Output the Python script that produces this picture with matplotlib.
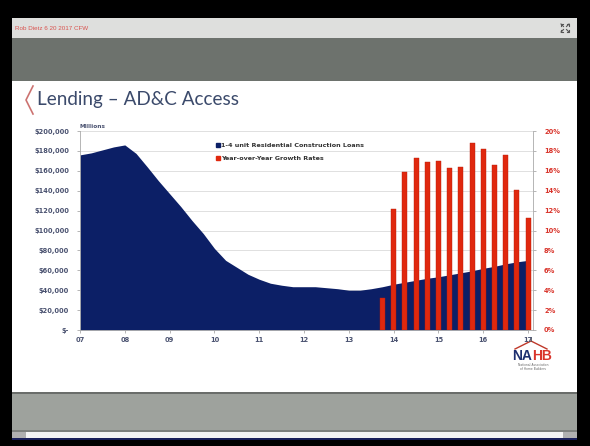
import matplotlib
matplotlib.use("Agg")
import matplotlib.pyplot as plt
import matplotlib.patches as mpatches
from matplotlib.lines import Line2D
import numpy as np

# ---------------- data ----------------
quarters = [2007 + 0.25 * i for i in range(41)]
loans = [176, 178, 181, 184, 186, 177.5, 164, 150, 137, 124, 110, 97,
         82, 70, 63, 56, 51, 47, 45, 43.5, 43.5, 43.5, 42.5, 41.5, 40, 40,
         41.5, 43.5, 46, 48, 50, 52, 53.5, 55.5, 57.5, 59.5, 62, 64, 66.5,
         68.5, 70]  # thousands of $ millions
growth_q = [2013.75 + 0.25 * i for i in range(14)]
growth = [3.2, 12.2, 15.9, 17.3, 16.9, 17.0, 16.25, 16.4, 18.8, 18.2,
          16.6, 17.6, 14.1, 11.3]
year_ticks = list(range(2007, 2018))
year_labels = ["07", "08", "09", "10", "11", "12", "13", "14", "15", "16", "17"]
left_ticks = list(range(0, 200001, 20000))
left_labels = ["$-"] + ["${:,}".format(v) for v in left_ticks[1:]]
right_ticks = list(range(0, 21, 2))
right_labels = ["{}%".format(v) for v in right_ticks]
legend_labels = ["1-4 unit Residential Construction Loans", "Year-over-Year Growth Rates"]

NAVY = "#0c1f66"
RED = "#e0280e"
W, H = 590, 446

fig = plt.figure(figsize=(W / 100, H / 100), dpi=100)
fig.patch.set_facecolor("black")

# background frame axes in pixel coords
bg = fig.add_axes([0, 0, 1, 1])
bg.set_xlim(0, W)
bg.set_ylim(H, 0)
bg.axis("off")

def rect(x0, y0, x1, y1, color, z=0):
    bg.add_patch(mpatches.Rectangle((x0, y0), x1 - x0, y1 - y0, facecolor=color,
                                    edgecolor="none", zorder=z))

rect(12, 18, 577, 38, "#dedfdd")
rect(12, 38, 577, 81, "#6d726d")
rect(12, 81, 577, 392, "#ffffff")
rect(12, 392, 577, 394, "#6a6d6a")
rect(12, 394, 577, 430, "#9ea29d")
rect(12, 430, 577, 432, "#7d807d")
rect(12, 432, 577, 438, "#f4f4f4")
rect(12, 432, 26, 438, "#b0b0b0")
rect(563, 432, 577, 438, "#b0b0b0")
rect(12, 438, 577, 440, "#1a1f5a")

bg.text(15, 28, "Rob Dietz 6 20 2017 CFW", color="#d9534f", fontsize=4.5,
        va="center", ha="left", family="Liberation Sans")
# expand icon drawn as small arrow shapes
cx, cy = 565, 28
for dx, dy in [(-1, -1), (1, -1), (-1, 1), (1, 1)]:
    bg.plot([cx + dx * 1.5, cx + dx * 4], [cy + dy * 1.5, cy + dy * 4],
            color="#555555", lw=0.8)
    bg.plot([cx + dx * 4, cx + dx * 4, cx + dx * 2.2],
            [cy + dy * 2.2, cy + dy * 4, cy + dy * 4], color="#555555", lw=0.8)

# title bracket and title
bg.plot([33, 26, 33], [86, 100, 114], color="#c0504d", lw=1.2, alpha=0.8)
bg.text(37, 99, "Lending \u2013 AD&C Access", color="#3b4a6b", fontsize=13.6,
        va="center", ha="left", family="Lato")

# NAHB logo
bg.plot([515, 531, 547], [349, 341, 349], color="#c0392b", lw=1.0)
bg.plot([531, 531], [341, 337], color="#555", lw=0.6)
bg.text(532, 356, "NA", color="#1d2f6f", fontsize=10, fontweight="bold",
        ha="right", va="center", family="Liberation Sans")
bg.text(532, 356, "HB", color="#d9342b", fontsize=10, fontweight="bold",
        ha="left", va="center", family="Liberation Sans")
bg.text(533, 367, "National Association\nof Home Builders", color="#666",
        fontsize=2.2, ha="center", va="center", linespacing=1.0)

# ---------------- chart ----------------
ax_l, ax_r, ax_t, ax_b = 80, 533, 131, 330
ax = fig.add_axes([ax_l / W, 1 - ax_b / H, (ax_r - ax_l) / W, (ax_b - ax_t) / H])
ax.set_facecolor("white")
ax.fill_between(quarters, [v * 1000 for v in loans], 0, color=NAVY, lw=0, zorder=2)
ax.set_xlim(2007, 2017.11)
ax.set_ylim(0, 200000)
ax.set_yticks(left_ticks)
ax.set_yticklabels(left_labels)
ax.set_xticks(year_ticks)
ax.set_xticklabels(year_labels)
ax.grid(axis="y", color="#e0e0e0", lw=0.7, zorder=1)
ax.spines["top"].set_visible(False)
ax.spines["right"].set_visible(False)
ax.spines["left"].set_color("#aaaaaa")
ax.spines["bottom"].set_color("#aaaaaa")
ax.spines["left"].set_linewidth(0.6)
ax.spines["bottom"].set_linewidth(0.6)
ax.tick_params(axis="y", labelsize=4.8, colors="#999999", labelcolor="#4a5270",
               length=2, width=0.5, pad=6)
ax.tick_params(axis="x", labelsize=4.8, colors="#999999", labelcolor="#4a5270",
               length=2, width=0.5, pad=3)
for lbl in ax.get_yticklabels() + ax.get_xticklabels():
    lbl.set_fontweight("bold")

ax2 = ax.twinx()
ax2.bar(growth_q, growth, width=0.11, color=RED, edgecolor="#b81e0a",
        linewidth=0.3, zorder=3)
ax2.set_ylim(0, 20)
ax2.set_yticks(right_ticks)
ax2.set_yticklabels(right_labels)
ax2.tick_params(axis="y", labelsize=4.8, colors="#999999", labelcolor="#d9342b",
                length=2, width=0.5, pad=6)
for lbl in ax2.get_yticklabels():
    lbl.set_fontweight("bold")
for s in ["top", "left", "bottom"]:
    ax2.spines[s].set_visible(False)
ax2.spines["right"].set_color("#aaaaaa")
ax2.spines["right"].set_linewidth(0.6)

ax.text(0.0, 1.01, "Millions", transform=ax.transAxes, fontsize=4.2,
        color="#4a5270", ha="left", va="bottom", fontweight="bold")

handles = [Line2D([], [], marker="s", ls="none", color=NAVY, markersize=3),
           Line2D([], [], marker="s", ls="none", color=RED, markersize=2.2)]
leg = ax.legend(handles, legend_labels, loc="upper left",
                bbox_to_anchor=((213 - ax_l) / (ax_r - ax_l), 1 - (140 - ax_t) / (ax_b - ax_t)),
                frameon=False, fontsize=4.6, handletextpad=0.1, handlelength=0.8,
                borderaxespad=0, labelspacing=1.2)
for t in leg.get_texts():
    t.set_fontweight("bold")
    t.set_color("#333333")

fig.savefig("out.png", dpi=100, facecolor="black")
